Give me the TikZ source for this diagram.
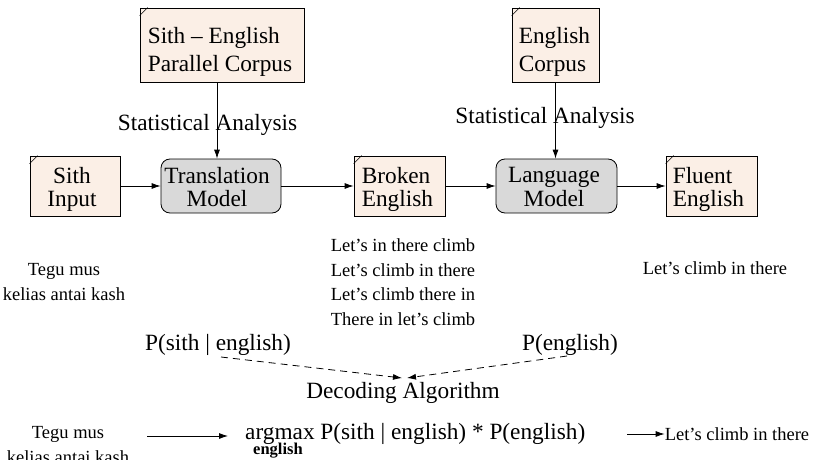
\documentclass[tikz,border=0pt]{standalone}
\usepackage{fontspec}
\setmainfont{Liberation Serif}
\usetikzlibrary{arrows.meta}
\definecolor{docfill}{HTML}{FBEFE6}
\definecolor{modfill}{HTML}{D9D9D9}
\begin{document}
\begin{tikzpicture}[x=1pt,y=-1pt,
  big/.style={font=\fontsize{23.3}{27}\selectfont},
  corp/.style={font=\fontsize{23.3}{28.5}\selectfont, inner sep=0pt, align=left, anchor=west},
  rowt/.style={font=\fontsize{23.3}{23.3}\selectfont, inner sep=0pt},
  small/.style={font=\fontsize{18.5}{24.5}\selectfont},
  docbox/.style={draw, fill=docfill, line width=0.8pt, inner sep=0pt},
  modbox/.style={draw, fill=modfill, line width=0.8pt, rounded corners=9pt, inner sep=0pt},
  arr/.style={-{Latex[length=9pt,width=6pt]}, line width=0.8pt},
  darr/.style={-{Latex[length=9pt,width=6pt]}, line width=0.8pt, dash pattern=on 7pt off 5pt},
  plain/.style={inner sep=0pt}]
\useasboundingbox (0,0) rectangle (814,460);

% document boxes
\node[docbox, minimum width=164pt, minimum height=74pt] (c1) at (222,45) {};
\node[docbox, minimum width=87pt, minimum height=74pt] (c2) at (555.5,45) {};
\node[docbox, minimum width=90pt, minimum height=60pt] (si) at (75,186) {};
\node[docbox, minimum width=91pt, minimum height=60pt] (be) at (399.5,186) {};
\node[docbox, minimum width=91pt, minimum height=60pt] (fe) at (711.5,186) {};

% folds
\foreach \n in {c1,c2,si,be,fe}
  \draw[line width=0.6pt] ([yshift=-8pt]\n.north west) -- ([xshift=8pt]\n.north west);

% model boxes
\node[modbox, minimum width=120pt, minimum height=54pt] (tm) at (221,186) {};
\node[modbox, minimum width=121pt, minimum height=54pt] (lm) at (556.5,186) {};

% box texts
\node[corp] (c1t) at ([xshift=8pt,yshift=-7pt]c1.west) {Sith -- English\\Parallel Corpus};
\node[corp] (c2t) at ([xshift=7pt,yshift=-7pt]c2.west) {English\\Corpus};
\node[rowt, align=center] (sit) at (72,189.5) {Sith\\Input};
\node[rowt, align=left, anchor=west] (bet) at ([xshift=8pt,yshift=-3.5pt]be.west) {Broken\\English};
\node[rowt, align=left, anchor=west] (fet) at ([xshift=7pt,yshift=-3.5pt]fe.west) {Fluent\\English};
\node[rowt, align=center] (tmt) at (217,187) {Translation\\Model};
\node[rowt, align=center] (lmt) at (554,187) {Language\\Model};

% vertical arrows
\draw[arr] (c1.south -| 217,0) -- (tm.north -| 217,0);
\draw[arr] (c2.south) -- (lm.north -| c2.south);
\node[plain, big] (sa1) at (207.5,125) {Statistical Analysis};
\node[plain, big] (sa2) at (545,118) {Statistical Analysis};

% horizontal arrows
\draw[arr] (si.east) -- (tm.west);
\draw[arr] (tm.east) -- (be.west);
\draw[arr] (be.east) -- (lm.west);
\draw[arr] (lm.east) -- (fe.west);

% example texts
\node[plain, small, align=center] (t1) at (64,282) {Tegu mus\\kelias antai kash};
\node[plain, small, align=center] (t2) at (403,282) {Let’s in there climb\\Let’s climb in there\\Let’s climb there in\\There in let’s climb};
\node[plain, small] (t3) at (715,268) {Let’s climb in there};

% probabilities
\node[plain, big] (p1) at (218,345) {P(sith | english)};
\node[plain, big] (p2) at (570,345) {P(english)};
\node[plain, big] (da) at (403,393) {Decoding Algorithm};
\coordinate (tipl) at (402,378);
\coordinate (tipr) at (407,378);
\coordinate (ds1) at (221,357);
\coordinate (ds2) at (567,356);
\draw[darr] (ds1) -- (tipl);
\draw[darr] (ds2) -- (tipr);

% bottom row
\node[plain, small, align=center] (b1) at (68,445) {Tegu mus\\kelias antai kash};
\node[plain, big, anchor=west] (am) at (245,434) {argmax P(sith | english) * P(english)};
\node[plain, font=\bfseries\fontsize{16.5}{18}\selectfont] (en) at (278,451) {english};
\node[plain, small] (b3) at (737,434) {Let’s climb in there};
\coordinate (a1s) at (147,436);
\coordinate (a1e) at (228,436);
\draw[arr] (a1s) -- (a1e);
\coordinate (a2s) at (627,434);
\draw[arr] (a2s) -- (b3.west);
\end{tikzpicture}
\end{document}
